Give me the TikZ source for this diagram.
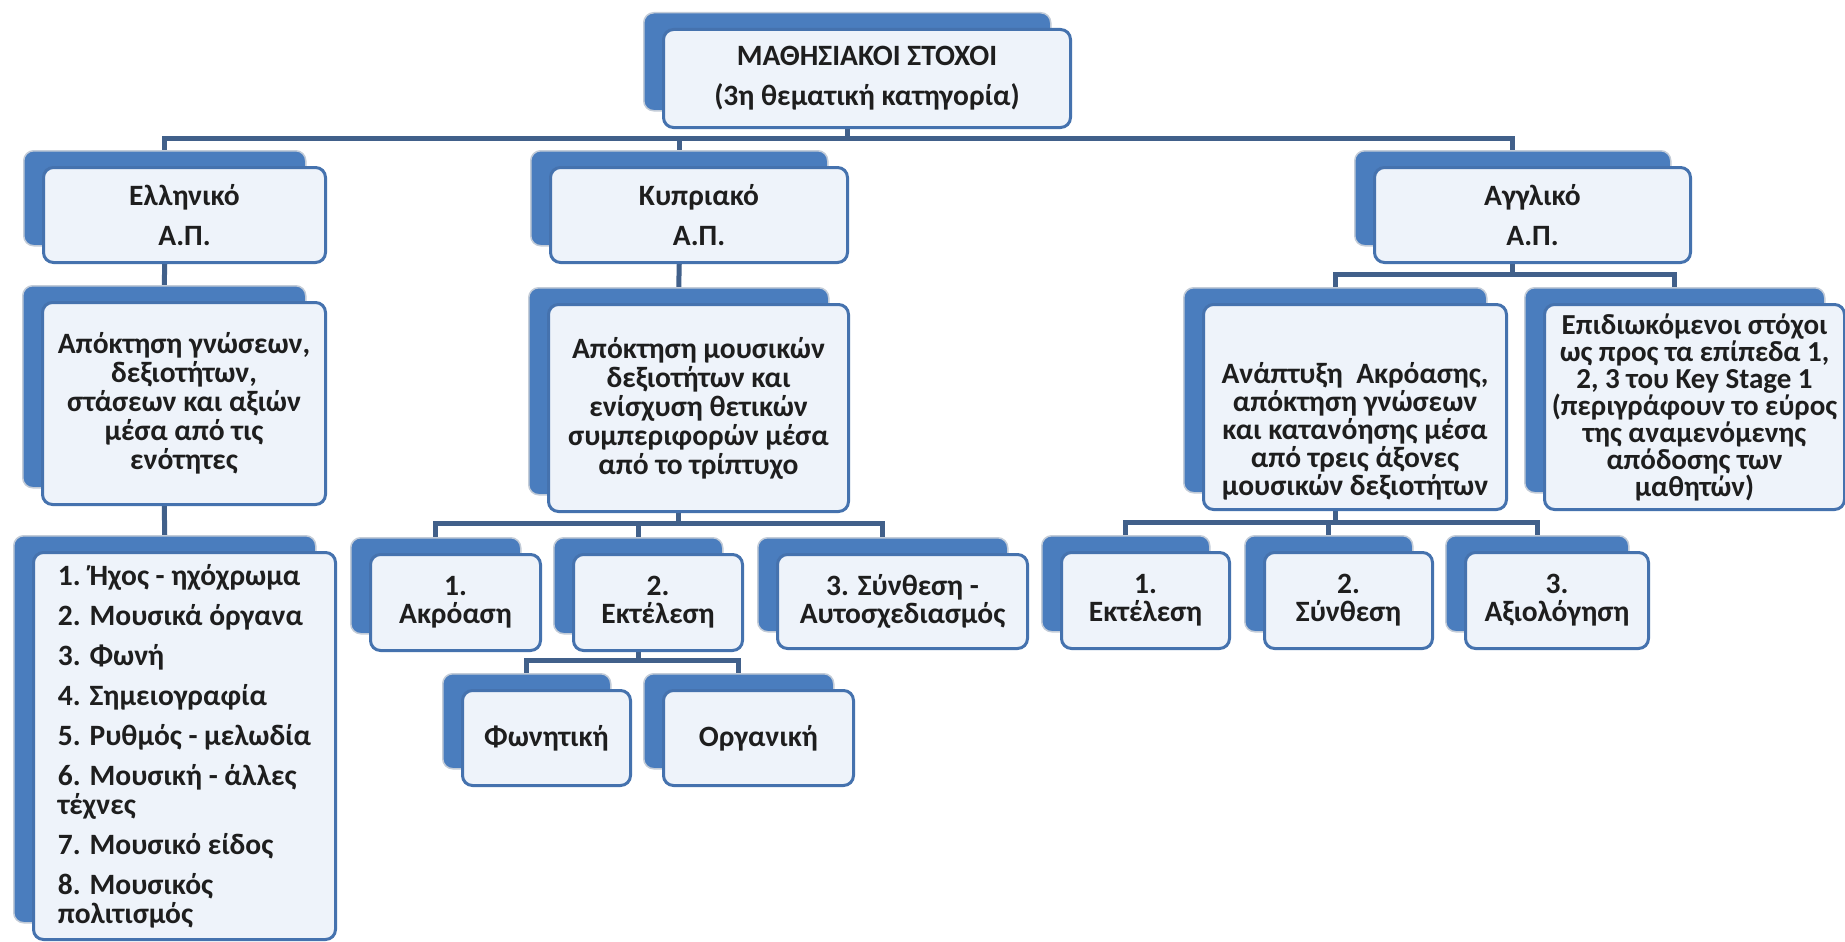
\documentclass[tikz,border=0pt]{standalone}
\usepackage{fontspec}
\setmainfont{Carlito}
\usetikzlibrary{calc,backgrounds}
\definecolor{backblue}{HTML}{4A7DBE}
\definecolor{backedge}{HTML}{C3CCD8}
\definecolor{frontedge}{HTML}{4572AE}
\definecolor{frontfill}{HTML}{EEF3FA}
\definecolor{conncol}{HTML}{41608A}
\definecolor{txtcol}{HTML}{1E1E1E}
\tikzset{
  backbox/.style={draw=backedge, line width=1.5pt, fill=backblue, rounded corners=10pt, inner sep=0pt, anchor=north west},
  frontbox/.style={draw=frontedge, line width=3pt, fill=frontfill, rounded corners=10pt, inner sep=0pt, anchor=north west,
    align=center, text=txtcol, font=\fontsize{29.5pt}{29pt}\selectfont\bfseries},
  conn/.style={draw=conncol, line width=5pt},
}
% name, x, y, w, h, extra options, text
\newcommand\mkbox[7]{%
  \node[backbox, minimum width=#4pt, minimum height=#5pt] (#1-b) at (#2,#3) {};
  \node[frontbox, minimum width=#4pt, minimum height=#5pt, #6] (#1) at ($(#1-b.north west)+(19,16)$) {#7};
}
\begin{document}
\begin{tikzpicture}[x=1pt,y=-1pt]
\useasboundingbox (0,0) rectangle (1845,942);

\mkbox{top}{643}{12}{407}{98}{}{ΜΑΘΗΣΙΑΚΟΙ ΣΤΟΧΟΙ\\[11pt](3η θεματική κατηγορία)}
\mkbox{ell}{23}{150}{282}{95}{}{Ελληνικό\\[11pt]Α.Π.}
\mkbox{kyp}{530}{150}{297}{95}{}{Κυπριακό\\[11pt]Α.Π.}
\mkbox{ang}{1354}{150}{316}{95}{}{Αγγλικό\\[11pt]Α.Π.}

\mkbox{ellc}{22}{285}{283}{202}{}{Απόκτηση γνώσεων,\\δεξιοτήτων,\\στάσεων και αξιών\\μέσα από τις\\ενότητες}
\mkbox{list}{13}{535}{302}{387}{align=left}{1. Ήχος - ηχόχρωμα\\[11pt]2. Μουσικά όργανα\\[11pt]3. Φωνή\\[11pt]4. Σημειογραφία\\[11pt]5. Ρυθμός - μελωδία\\[11pt]6. Μουσική - άλλες\\τέχνες\\[11pt]7. Μουσικό είδος\\[11pt]8. Μουσικός\\πολιτισμός}

\mkbox{kypc}{528}{287}{300}{207}{}{Απόκτηση μουσικών\\δεξιοτήτων και\\ενίσχυση θετικών\\συμπεριφορών μέσα\\από το τρίπτυχο}
\mkbox{akr}{350}{537}{170}{96}{}{1.\\[-1pt]Ακρόαση}
\mkbox{ekt}{553}{537}{169}{96}{}{2.\\[-1pt]Εκτέλεση}
\mkbox{syn}{757}{537}{250}{94}{}{3. Σύνθεση -\\[-1pt]Αυτοσχεδιασμός}
\mkbox{fon}{442}{673}{168}{95}{}{Φωνητική}
\mkbox{org}{643}{673}{190}{95}{}{Οργανική}

\mkbox{anap}{1183}{287}{303}{205}{font=\fontsize{29.5pt}{28pt}\selectfont\bfseries}{\rule{0pt}{70pt}Ανάπτυξη\ \ Ακρόασης,\\απόκτηση γνώσεων\\και κατανόησης μέσα\\από τρεις άξονες\\μουσικών δεξιοτήτων}
\mkbox{epid}{1524}{287}{300}{205}{font=\fontsize{29pt}{27pt}\selectfont\bfseries}{Επιδιωκόμενοι στόχοι\\ως προς τα επίπεδα 1,\\2, 3 του Key Stage 1\\(περιγράφουν το εύρος\\της αναμενόμενης\\απόδοσης των\\μαθητών)}
\mkbox{ekt2}{1041}{535}{168}{96}{}{1.\\[-1pt]Εκτέλεση}
\mkbox{syn2}{1244}{535}{168}{96}{}{2.\\[-1pt]Σύνθεση}
\mkbox{axi}{1445}{535}{183}{96}{}{3.\\[-1pt]Αξιολόγηση}

\coordinate (bus1) at (0,138);
\coordinate (kypbus) at (0,523);
\coordinate (ektbus) at (0,660);
\coordinate (angbus) at (0,274);
\coordinate (anapbus) at (0,522);

\begin{pgfonlayer}{background}
\fill[white] (0,0) rectangle (1845,942);
\draw[conn] (top-b.south |- top.south) -- (top-b.south |- bus1);
\draw[conn] (ell-b.north) -- (ell-b.north |- bus1) -- (ang-b.north |- bus1) -- (ang-b.north);
\draw[conn] (kyp-b.north) -- (kyp-b.north |- bus1);
\draw[conn] (ell-b.south |- ell.south) -- (ellc-b.north);
\draw[conn] (ellc-b.south |- ellc.south) -- (list-b.north);
\draw[conn] (kyp-b.south |- kyp.south) -- (kypc-b.north);
\draw[conn] (kypc-b.south |- kypc.south) -- (kypc-b.south |- kypbus);
\draw[conn] (akr-b.north) -- (akr-b.north |- kypbus) -- (syn-b.north |- kypbus) -- (syn-b.north);
\draw[conn] (ekt-b.north) -- (ekt-b.north |- kypbus);
\draw[conn] (ekt-b.south |- ekt.south) -- (ekt-b.south |- ektbus);
\draw[conn] (fon-b.north) -- (fon-b.north |- ektbus) -- (org-b.north |- ektbus) -- (org-b.north);
\draw[conn] (ang-b.south |- ang.south) -- (ang-b.south |- angbus);
\draw[conn] (anap-b.north) -- (anap-b.north |- angbus) -- (epid-b.north |- angbus) -- (epid-b.north);
\draw[conn] (anap-b.south |- anap.south) -- (anap-b.south |- anapbus);
\draw[conn] (ekt2-b.north) -- (ekt2-b.north |- anapbus) -- (axi-b.north |- anapbus) -- (axi-b.north);
\draw[conn] (syn2-b.north) -- (syn2-b.north |- anapbus);
\end{pgfonlayer}
\end{tikzpicture}
\end{document}
